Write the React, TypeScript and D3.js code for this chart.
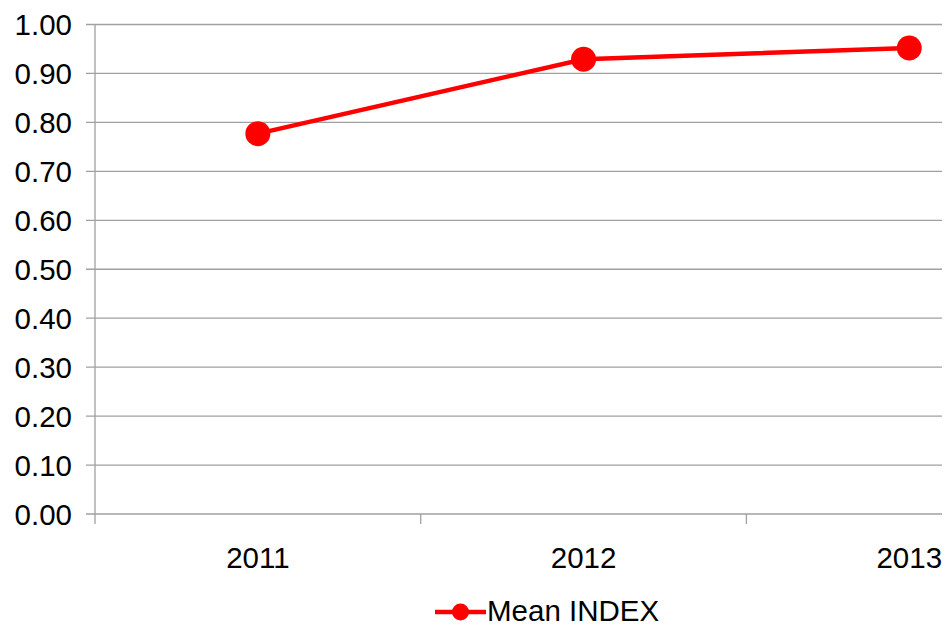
import { useEffect, useRef } from "react";
import * as d3 from "d3";

const years = ["2011", "2012", "2013"];
const meanIndex = [0.777, 0.929, 0.952];
const yTicks = [0, 0.1, 0.2, 0.3, 0.4, 0.5, 0.6, 0.7, 0.8, 0.9, 1.0];
const seriesName = "Mean INDEX";

export default function App() {
  const svgRef = useRef<SVGSVGElement | null>(null);

  useEffect(() => {
    if (!svgRef.current) return;

    const width = 945;
    const height = 625;
    const left = 95;
    const right = 942;
    const top = 24.5;
    const bottom = 514;
    const font = "'Liberation Sans', Arial, sans-serif";
    const fontSize = 29.5;
    const grid = "#a0a0a0";

    const svg = d3.select(svgRef.current);
    svg.selectAll("*").remove();
    svg.attr("width", width).attr("height", height);

    // source chart was cropped on the right, so the band runs past the edge
    const x = d3.scaleBand<string>().domain(years).range([left, left + 3 * 325.7]);
    const y = d3.scaleLinear().domain([0, 1]).range([bottom, top]);

    // gridlines + y labels
    svg.append("g")
      .selectAll("line")
      .data(yTicks)
      .enter()
      .append("line")
      .attr("x1", left - 9)
      .attr("x2", right)
      .attr("y1", d => y(d))
      .attr("y2", d => y(d))
      .attr("stroke", grid)
      .attr("stroke-width", 1.3);

    svg.append("g")
      .selectAll("text")
      .data(yTicks)
      .enter()
      .append("text")
      .attr("x", 72)
      .attr("y", d => y(d))
      .attr("dy", "0.36em")
      .attr("text-anchor", "end")
      .attr("font-family", font)
      .attr("font-size", fontSize)
      .attr("fill", "#000")
      .text(d => d.toFixed(2));

    // y axis line
    svg.append("line")
      .attr("x1", left)
      .attr("x2", left)
      .attr("y1", top)
      .attr("y2", bottom + 10)
      .attr("stroke", grid)
      .attr("stroke-width", 1.3);

    // x ticks at band boundaries
    svg.append("g")
      .selectAll("line")
      .data(years.slice(1))
      .enter()
      .append("line")
      .attr("x1", d => x(d)!)
      .attr("x2", d => x(d)!)
      .attr("y1", bottom)
      .attr("y2", bottom + 10)
      .attr("stroke", grid)
      .attr("stroke-width", 1.3);

    svg.append("g")
      .selectAll("text")
      .data(years)
      .enter()
      .append("text")
      .attr("x", d => x(d)! + x.bandwidth() / 2)
      .attr("y", 568)
      .attr("text-anchor", "middle")
      .attr("font-family", font)
      .attr("font-size", fontSize)
      .attr("fill", "#000")
      .text(d => d);

    const cx = (i: number) => x(years[i])! + x.bandwidth() / 2;

    const line = d3.line<number>()
      .x((_, i) => cx(i))
      .y(d => y(d));

    svg.append("path")
      .datum(meanIndex)
      .attr("d", line)
      .attr("fill", "none")
      .attr("stroke", "#ff0000")
      .attr("stroke-width", 4.5);

    svg.append("g")
      .selectAll("circle")
      .data(meanIndex)
      .enter()
      .append("circle")
      .attr("cx", (_, i) => cx(i))
      .attr("cy", d => y(d))
      .attr("r", 12.5)
      .attr("fill", "#ff0000");

    // legend (cut off at the bottom edge, as in the source)
    const lg = svg.append("g");
    lg.append("line")
      .attr("x1", 435)
      .attr("x2", 486)
      .attr("y1", 612)
      .attr("y2", 612)
      .attr("stroke", "#ff0000")
      .attr("stroke-width", 4.5);
    lg.append("circle")
      .attr("cx", 460.5)
      .attr("cy", 612)
      .attr("r", 8.5)
      .attr("fill", "#ff0000");
    lg.append("text")
      .attr("x", 487)
      .attr("y", 621)
      .attr("font-family", font)
      .attr("font-size", fontSize)
      .attr("fill", "#000")
      .text(seriesName);
  }, []);

  return (
    <svg
      ref={svgRef}
      style={{ position: "absolute", left: 0, top: 0, background: "#fff" }}
    />
  );
}
